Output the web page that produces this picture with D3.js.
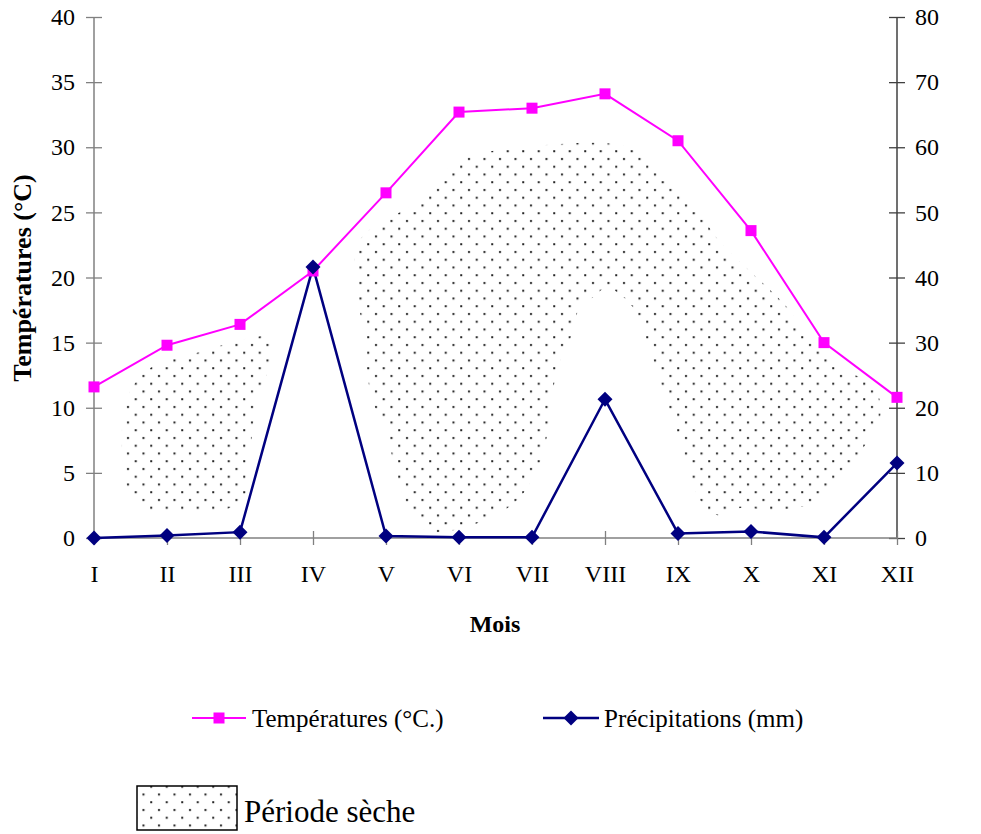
<!DOCTYPE html>
<html><head><meta charset="utf-8">
<script src="https://cdn.jsdelivr.net/npm/d3@7/dist/d3.min.js"></script>
<style>body{margin:0;background:#fff}svg{display:block}text{font-family:"Liberation Serif","Times New Roman",serif}</style>
</head><body>
<svg id="c" width="981" height="834"></svg>
<script>
const months = ["I","II","III","IV","V","VI","VII","VIII","IX","X","XI","XII"];
const temperatures = [11.6, 14.8, 16.4, 20.5, 26.5, 32.7, 33.0, 34.1, 30.5, 23.6, 15.0, 10.8];
const precipitations = [0, 0.4, 0.9, 41.6, 0.3, 0.1, 0.1, 21.3, 0.7, 1.0, 0.1, 11.5];
const tempTicks = [0,5,10,15,20,25,30,35,40];
const precTicks = [0,10,20,30,40,50,60,70,80];
// dry-period zones, in [month index, temperature °C]
const dryZone1 = [[0.47,10.98],[0.77,13.05],[1.45,14.28],[2.14,15.36],[2.44,15.43],[2.44,13.67],[2.25,10.98],[2.14,6.76],[2.07,3.30],[1.86,2.30],[0.77,2.15],[0.47,3.69],[0.38,7.52]];
const dryZone2 = [[3.58,22.34],[3.89,24.18],[4.30,25.34],[4.63,27.10],[4.95,28.87],[5.25,29.48],[6.00,30.10],[7.27,30.10],[7.58,28.87],[7.89,27.49],[8.21,25.72],[8.53,23.03],[8.85,21.19],[9.16,19.58],[9.49,17.73],[9.81,15.20],[10.22,12.90],[10.67,11.90],[10.77,9.29],[10.63,7.75],[10.32,5.22],[9.85,2.69],[9.30,2.15],[8.85,2.30],[8.53,1.77],[8.30,2.92],[8.16,4.99],[7.99,8.06],[7.75,12.13],[7.58,14.97],[7.38,17.73],[7.16,18.89],[7.03,19.27],[6.84,18.50],[6.66,17.73],[6.52,15.20],[6.34,12.90],[6.25,9.29],[6.11,5.83],[5.80,2.92],[5.26,1.15],[4.74,0.46],[4.53,0.61],[4.30,2.38],[4.12,5.22],[4.01,8.29],[3.81,10.60],[3.69,15.82],[3.60,18.81],[3.58,20.58]];

const svg = d3.select("#c");
const L = 94, R = 897, T = 17, B = 538;
const x = d3.scalePoint().domain(months).range([L, R]);
const xi = d3.scaleLinear().domain([0, months.length - 1]).range([L, R]);
const yT = d3.scaleLinear().domain([0, 40]).range([B, T]);
const yP = d3.scaleLinear().domain([0, 80]).range([B, T]);

const defs = svg.append("defs");
const pat = defs.append("pattern").attr("id","dots").attr("patternUnits","userSpaceOnUse")
  .attr("width",15.5).attr("height",15.5);
pat.append("rect").attr("x",3).attr("y",3).attr("width",2).attr("height",2).attr("fill","#222");
pat.append("rect").attr("x",10.75).attr("y",10.75).attr("width",2).attr("height",2).attr("fill","#222");
defs.append("clipPath").attr("id","rclip").append("rect").attr("x",900).attr("y",168).attr("width",81).attr("height",600);

const blob = d3.line().x(d => xi(d[0])).y(d => yT(d[1])).curve(d3.curveCatmullRomClosed.alpha(0.5));
[dryZone1, dryZone2].forEach(z => svg.append("path").attr("d", blob(z)).attr("fill","url(#dots)"));

// axes
const gl = svg.append("g").attr("transform",`translate(${L},0)`)
  .call(d3.axisLeft(yT).tickValues(tempTicks).tickSize(8).tickPadding(11));
gl.selectAll(".tick line").attr("x1",8).attr("x2",-8);
const gr = svg.append("g").attr("transform",`translate(${R},0)`)
  .call(d3.axisRight(yP).tickValues(precTicks).tickSize(8).tickPadding(10));
gr.selectAll(".tick line").attr("x1",-8).attr("x2",8);
const gb = svg.append("g").attr("transform",`translate(0,${B})`)
  .call(d3.axisBottom(x).tickSize(7).tickPadding(20));
gb.selectAll(".tick line").attr("y1",-7).attr("y2",7);
[gl, gr, gb].forEach(g => {
  g.select(".domain").attr("stroke","#808080").attr("stroke-width",1.5);
  g.selectAll(".tick line").attr("stroke","#808080").attr("stroke-width",1.3);
  g.selectAll(".tick text").attr("font-size",24).attr("fill","#000").attr("font-family",'"Liberation Serif",serif');
});
gr.select(".domain").attr("stroke","#404040");
gr.selectAll(".tick line").attr("stroke","#404040");
gl.select(".domain").attr("d",`M0,${T}V${B}`);
gr.select(".domain").attr("d",`M0,${T}V${B}`);
gb.select(".domain").attr("d",`M${L},0H${R}`);

// titles
svg.append("text").attr("transform","translate(31,278) rotate(-90)").attr("text-anchor","middle")
  .attr("font-size",26).attr("font-weight","bold").text("Températures (°C)");
svg.append("text").attr("clip-path","url(#rclip)").attr("transform","translate(977,266) rotate(-90)").attr("text-anchor","middle")
  .attr("font-size",25).attr("font-weight","bold").text("Précipitations (mm)");
svg.append("text").attr("x",495).attr("y",632).attr("text-anchor","middle")
  .attr("font-size",24).attr("font-weight","bold").text("Mois");

// lines
const lt = d3.line().x((d,i) => x(months[i])).y(d => yT(d));
const lp = d3.line().x((d,i) => x(months[i])).y(d => yP(d));
svg.append("path").attr("d", lt(temperatures)).attr("fill","none").attr("stroke","#FF00FF").attr("stroke-width",2);
svg.append("path").attr("d", lp(precipitations)).attr("fill","none").attr("stroke","#000080").attr("stroke-width",2.5);
const sq = 11, dm = 7.5;
svg.selectAll(".sq").data(temperatures).join("rect")
  .attr("x",(d,i) => x(months[i]) - sq/2).attr("y", d => yT(d) - sq/2)
  .attr("width",sq).attr("height",sq).attr("fill","#FF00FF");
svg.selectAll(".dm").data(precipitations).join("path")
  .attr("d",(d,i) => { const cx = x(months[i]), cy = yP(d); return `M${cx},${cy-dm}L${cx+dm},${cy}L${cx},${cy+dm}L${cx-dm},${cy}Z`; })
  .attr("fill","#000080");

// legend
const lg = svg.append("g");
lg.append("line").attr("x1",192).attr("x2",246).attr("y1",718).attr("y2",718).attr("stroke","#FF00FF").attr("stroke-width",2);
lg.append("rect").attr("x",219-sq/2).attr("y",718-sq/2).attr("width",sq).attr("height",sq).attr("fill","#FF00FF");
lg.append("text").attr("x",252).attr("y",727).attr("font-size",25).text("Températures (°C.)");
lg.append("line").attr("x1",543).attr("x2",599).attr("y1",718).attr("y2",718).attr("stroke","#000080").attr("stroke-width",2.5);
lg.append("path").attr("d",`M571,${718-dm}L${571+dm},718L571,${718+dm}L${571-dm},718Z`).attr("fill","#000080");
lg.append("text").attr("x",604).attr("y",727).attr("font-size",25).text("Précipitations (mm)");
lg.append("rect").attr("x",137).attr("y",786).attr("width",100).attr("height",44).attr("fill","url(#dots)").attr("stroke","#000").attr("stroke-width",1.5);
lg.append("text").attr("x",244).attr("y",822).attr("font-size",31).text("Période sèche");
</script>
</body></html>
